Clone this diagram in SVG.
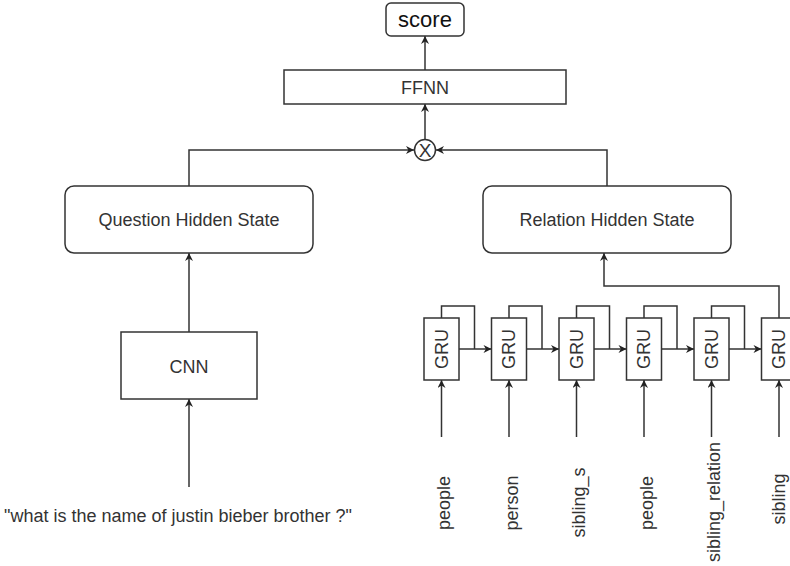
<svg xmlns="http://www.w3.org/2000/svg" width="790" height="566" viewBox="0 0 790 566">
<defs>
<marker id="arr" viewBox="0 0 10 10" refX="10" refY="5" markerUnits="userSpaceOnUse" markerWidth="9" markerHeight="8" orient="auto">
<path d="M0,0 L10,5 L0,10 L3,5 z" fill="#222"/>
</marker>
<style>
.box{fill:#fff;stroke:#333;stroke-width:1.5}
.ln{fill:none;stroke:#333;stroke-width:1.5}
.ar{fill:none;stroke:#333;stroke-width:1.5;marker-end:url(#arr)}
.t{font-family:"Liberation Sans",Arial,sans-serif;font-size:18px;fill:#333;text-anchor:middle}
</style>
</defs>
<rect x="0" y="0" width="790" height="566" fill="#fff"/>
<g id="connectors">
<path class="ar" d="M425,70 V36"/>
<path class="ar" d="M425,139.5 V104"/>
<path class="ar" d="M189,186 V150 H414"/>
<path class="ar" d="M607,186 V150 H436"/>
<path class="ar" d="M189,332 V253"/>
<path class="ar" d="M189,487 V399"/>
<path class="ar" d="M779,318 V286 H604 V253"/>
<path class="ln" d="M441.5,318 V306 H474.5 V349"/>
<path class="ln" d="M509,318 V306 H542 V349"/>
<path class="ln" d="M576.5,318 V306 H609.5 V349"/>
<path class="ln" d="M644,318 V306 H677 V349"/>
<path class="ln" d="M711.5,318 V306 H744.5 V349"/>
<path class="ar" d="M459,349 H491.5"/>
<path class="ar" d="M526.5,349 H559"/>
<path class="ar" d="M594,349 H626.5"/>
<path class="ar" d="M661.5,349 H694"/>
<path class="ar" d="M729,349 H761.5"/>
<path class="ar" d="M441.5,437 V380"/>
<path class="ar" d="M509,437 V380"/>
<path class="ar" d="M576.5,437 V380"/>
<path class="ar" d="M644,437 V380"/>
<path class="ar" d="M711.5,437 V380"/>
<path class="ar" d="M779,437 V380"/>
</g>
<g id="score">
<rect class="box" x="386" y="3" width="78" height="33" rx="5"/>
<text class="t" x="425" y="26.5" style="font-size:22px;fill:#111">score</text>
</g>
<g id="ffnn">
<rect class="box" x="284" y="70" width="282" height="34"/>
<text class="t" x="425" y="93.5">FFNN</text>
</g>
<g id="mult">
<circle class="box" cx="425" cy="150" r="10.5"/>
<text class="t" x="425" y="157" style="font-size:19px">X</text>
</g>
<g id="question-hidden-state">
<rect class="box" x="65" y="186" width="248" height="67" rx="9"/>
<text class="t" x="189" y="226">Question Hidden State</text>
</g>
<g id="relation-hidden-state">
<rect class="box" x="483" y="186" width="248" height="67" rx="9"/>
<text class="t" x="607" y="226">Relation Hidden State</text>
</g>
<g id="cnn">
<rect class="box" x="121" y="332" width="136" height="67"/>
<text class="t" x="189" y="372.5">CNN</text>
</g>
<g id="question-text">
<text class="t" x="178" y="522">"what is the name of justin bieber brother ?"</text>
</g>
<g id="gru1"><rect class="box" x="424" y="318" width="35" height="62"/><text class="t" transform="translate(447.5,349) rotate(-90)">GRU</text></g>
<g id="gru2"><rect class="box" x="491.5" y="318" width="35" height="62"/><text class="t" transform="translate(515,349) rotate(-90)">GRU</text></g>
<g id="gru3"><rect class="box" x="559" y="318" width="35" height="62"/><text class="t" transform="translate(582.5,349) rotate(-90)">GRU</text></g>
<g id="gru4"><rect class="box" x="626.5" y="318" width="35" height="62"/><text class="t" transform="translate(650,349) rotate(-90)">GRU</text></g>
<g id="gru5"><rect class="box" x="694" y="318" width="35" height="62"/><text class="t" transform="translate(717.5,349) rotate(-90)">GRU</text></g>
<g id="gru6"><rect class="box" x="761.5" y="318" width="35" height="62"/><text class="t" transform="translate(785,349) rotate(-90)">GRU</text></g>
<g id="label1"><text class="t" transform="translate(450,503) rotate(-90)">people</text></g>
<g id="label2"><text class="t" transform="translate(517.5,503) rotate(-90)">person</text></g>
<g id="label3"><text class="t" transform="translate(585,502.5) rotate(-90)">sibling_s</text></g>
<g id="label4"><text class="t" transform="translate(652.5,503) rotate(-90)">people</text></g>
<g id="label5"><text class="t" transform="translate(720,502) rotate(-90)">sibling_relation</text></g>
<g id="label6"><text class="t" transform="translate(785,499) rotate(-90)">sibling</text></g>
</svg>
